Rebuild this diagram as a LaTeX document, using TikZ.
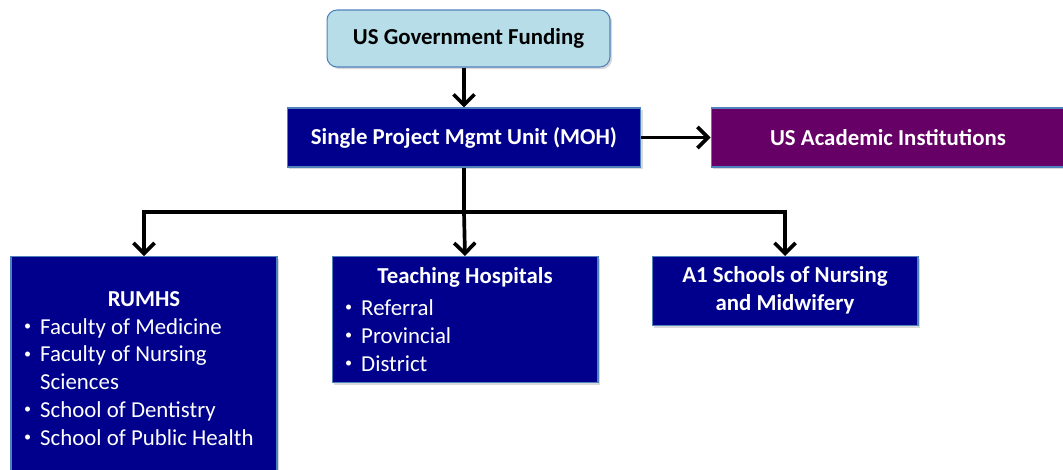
\documentclass[tikz,border=0pt]{standalone}
\usepackage{fontspec}
\usepackage{graphicx}
\setmainfont{Carlito}
\usetikzlibrary{arrows.meta,shadows}

\definecolor{navybox}{RGB}{0,0,140}
\definecolor{plumbox}{RGB}{102,0,102}
\definecolor{skybox}{RGB}{183,222,232}
\definecolor{edgeblue}{RGB}{79,129,189}

\newcommand{\boxfont}{\fontsize{13}{15.9}\selectfont}
\newcommand{\plainspace}{\spaceskip=0pt\xspaceskip=0pt}
\newcommand{\bul}{\makebox[9.8pt][l]{\hspace{0.6pt}\raisebox{0.35ex}{\scalebox{0.62}{\textbullet}}}}
\newcommand{\boxhead}[1]{\makebox[4.84cm]{\bfseries #1}}

\begin{document}
\begin{tikzpicture}[x=0.02cm,y=-0.02cm,->,>={Straight Barb[length=6pt,width=12pt]},line width=2.1pt,
  every node/.style={font=\boxfont},
  shade/.style={drop shadow={opacity=0.3,shadow xshift=1.2pt,shadow yshift=-1.2pt}},
  fund/.style={draw=edgeblue,line width=0.6pt,fill=skybox,rounded corners=0.2cm,shade,
    minimum width=5.66cm,minimum height=1.14cm,font=\boxfont\bfseries},
  bar/.style={draw=edgeblue,line width=0.6pt,fill=navybox,text=white,shade,
    minimum width=7.08cm,minimum height=1.18cm,font=\boxfont\bfseries},
  unit/.style={draw=edgeblue,line width=0.6pt,fill=navybox,text=white,shade,
    anchor=north,inner xsep=0.24cm,text width=4.84cm,align=left}]
\useasboundingbox (0,0) rectangle (1063,470);

\node[fund] (gov) at (468.5,38.5) {US Government Funding};
\node[bar] (pmu) at (464,137.5) {Single Project Mgmt Unit (MOH)};
\node[bar,fill=plumbox] (usa) at (888,137.5) {US Academic Institutions};

\node[unit,minimum height=4.48cm] (rumhs) at (144,256) {\plainspace\boxhead{RUMHS}\\
  \bul Faculty of Medicine\\
  \bul Faculty of Nursing\\
  \hphantom{\bul}Sciences\\
  \bul School of Dentistry\\
  \bul School of Public Health};
\node[unit,minimum height=2.52cm] (hosp) at (465,256) {\plainspace\boxhead{Teaching Hospitals}\\[2.3pt]
  \bul Referral\\
  \bul Provincial\\
  \bul District};
\node[unit,minimum height=1.38cm,align=center,font=\boxfont\bfseries] (nurse) at (785,256)
  {\plainspace\begin{tabular}{@{}c@{}}A1 Schools of Nursing\\and Midwifery\end{tabular}};

\coordinate (split) at (464,212);
\draw (gov.south -| pmu.north) -- (pmu.north);
\draw (pmu) -- (usa);
\draw[-] (pmu.south) -- (split);
\draw (split) -| (rumhs.north);
\draw (split) -- (hosp.north);
\draw (split) -| (nurse.north);
\end{tikzpicture}
\end{document}
